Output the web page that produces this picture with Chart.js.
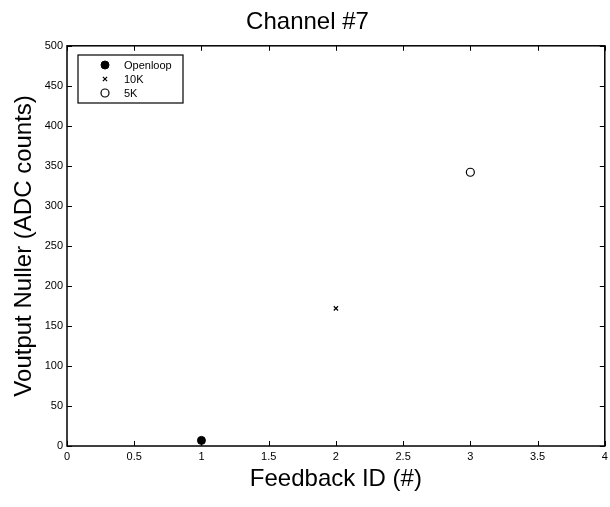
<!DOCTYPE html>
<html>
<head>
<meta charset="utf-8">
<script src="https://cdn.jsdelivr.net/npm/chart.js@4/dist/chart.umd.min.js"></script>
<style>
  html, body { margin: 0; padding: 0; background: #fff; }
  #wrap { width: 610px; height: 507px; }
</style>
</head>
<body>
<div id="wrap"><canvas id="chart" width="610" height="507"></canvas></div>
<script>
// data
const seriesNames = ["Openloop", "10K", "5K"];
const feedbackIds = [1, 2, 3];
const nullerValues = [7, 172, 342];
const xTicks = [0, 0.5, 1, 1.5, 2, 2.5, 3, 3.5, 4];
const yTicks = [0, 50, 100, 150, 200, 250, 300, 350, 400, 450, 500];

const FONT = "'Liberation Sans', Arial, Helvetica, sans-serif";

const markerStyles = [
    { pointStyle: 'circle', radius: 4, backgroundColor: '#000', borderColor: '#000', borderWidth: 1 },
    { pointStyle: 'crossRot', radius: 3, backgroundColor: '#000', borderColor: '#000', borderWidth: 1.2 },
    { pointStyle: 'circle', radius: 4, backgroundColor: '#fff', borderColor: '#000', borderWidth: 1.2 }
];

const datasets = seriesNames.map((name, i) => ({
    label: name,
    data: [{ x: feedbackIds[i], y: nullerValues[i] }],
    pointStyle: markerStyles[i].pointStyle,
    pointRadius: markerStyles[i].radius,
    pointBackgroundColor: markerStyles[i].backgroundColor,
    pointBorderColor: markerStyles[i].borderColor,
    pointBorderWidth: markerStyles[i].borderWidth,
    showLine: false
}));

// box around plot with inward ticks on all sides + matlab style legend
const matlabAxes = {
    id: 'matlabAxes',
    afterDraw(chart) {
        const ctx = chart.ctx;
        const a = chart.chartArea;
        const xs = chart.scales.x, ys = chart.scales.y;
        const len = 5;
        ctx.save();
        ctx.strokeStyle = '#000';
        ctx.lineWidth = 1;
        ctx.beginPath();
        xTicks.forEach(v => {
            const px = Math.round(xs.getPixelForValue(v)) + 0.5;
            ctx.moveTo(px, a.bottom); ctx.lineTo(px, a.bottom - len);
            ctx.moveTo(px, a.top); ctx.lineTo(px, a.top + len);
        });
        yTicks.forEach(v => {
            const py = Math.round(ys.getPixelForValue(v)) + 0.5;
            ctx.moveTo(a.left, py); ctx.lineTo(a.left + len, py);
            ctx.moveTo(a.right, py); ctx.lineTo(a.right - len, py);
        });
        ctx.stroke();
        ctx.lineWidth = 1.5;
        ctx.strokeRect(a.left, a.top, a.right - a.left, a.bottom - a.top);

        // legend
        const lx = 78, ly = 55, lw = 105, lh = 48;
        ctx.fillStyle = '#fff';
        ctx.fillRect(lx, ly, lw, lh);
        ctx.lineWidth = 1.2;
        ctx.strokeRect(lx, ly, lw, lh);
        ctx.font = '11px ' + FONT;
        ctx.textBaseline = 'middle';
        ctx.textAlign = 'left';
        seriesNames.forEach((name, i) => {
            const rowY = ly + 10 + i * 14;
            const m = markerStyles[i];
            ctx.fillStyle = m.backgroundColor;
            ctx.strokeStyle = m.borderColor;
            ctx.lineWidth = m.borderWidth;
            Chart.helpers.drawPoint(ctx, { pointStyle: m.pointStyle, radius: m.radius, borderWidth: m.borderWidth }, 105, rowY);
            ctx.fillStyle = '#000';
            ctx.fillText(name, 124, rowY + 1);
        });
        ctx.restore();
    }
};

new Chart(document.getElementById('chart').getContext('2d'), {
    type: 'scatter',
    data: { datasets: datasets },
    options: {
        responsive: false,
        animation: false,
        layout: { padding: { left: 10, right: 5, top: 0, bottom: 13 } },
        plugins: {
            legend: { display: false },
            tooltip: { enabled: false },
            title: {
                display: true,
                text: 'Channel #7',
                color: '#000',
                font: { family: FONT, size: 24, weight: 'normal' },
                padding: { top: 8, bottom: 9 }
            }
        },
        scales: {
            x: {
                type: 'linear',
                min: 0, max: 4,
                afterBuildTicks: s => { s.ticks = xTicks.map(v => ({ value: v })); },
                afterFit: s => { s.height = 48; s.paddingLeft = 0; s.paddingRight = 0; },
                grid: { display: false, drawTicks: false },
                border: { display: false },
                ticks: {
                    color: '#000', font: { family: FONT, size: 11 }, padding: 4, maxRotation: 0,
                    callback: v => String(v)
                },
                title: {
                    display: true,
                    text: 'Feedback ID (#)',
                    color: '#000',
                    font: { family: FONT, size: 24 },
                    padding: { top: 0, bottom: 0 }
                }
            },
            y: {
                type: 'linear',
                min: 0, max: 500,
                afterBuildTicks: s => { s.ticks = yTicks.map(v => ({ value: v })); },
                afterFit: s => { s.width = 57; },
                grid: { display: false, drawTicks: false },
                border: { display: false },
                ticks: { color: '#000', font: { family: FONT, size: 11 }, padding: 4, callback: v => String(v) },
                title: {
                    display: true,
                    text: 'Voutput Nuller (ADC counts)',
                    color: '#000',
                    font: { family: FONT, size: 24 },
                    padding: { top: 0, bottom: 0 }
                }
            }
        }
    },
    plugins: [matlabAxes]
});
</script>
</body>
</html>
